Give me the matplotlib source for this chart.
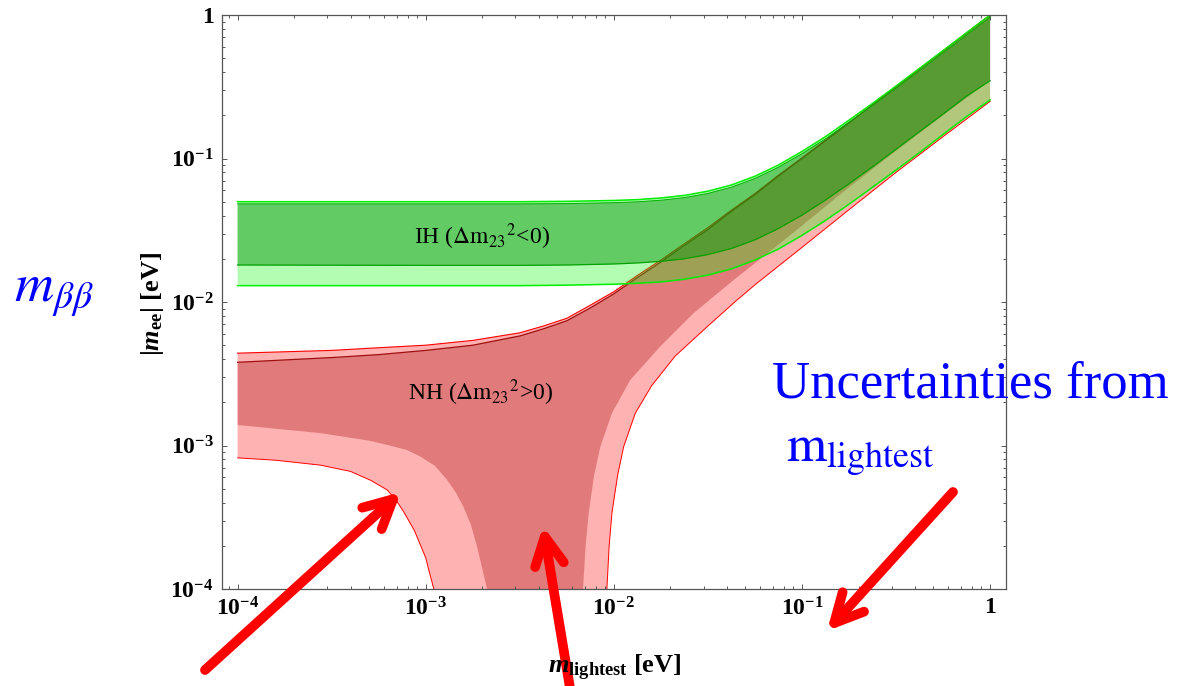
import numpy as np
import matplotlib.pyplot as plt
from matplotlib.ticker import FixedLocator, FixedFormatter, LogLocator, NullFormatter

plt.rcParams['font.family'] = ['Liberation Serif', 'DejaVu Serif']
plt.rcParams['mathtext.fontset'] = 'custom'
plt.rcParams['mathtext.rm'] = 'Liberation Serif:bold'
plt.rcParams['mathtext.it'] = 'Liberation Serif:italic:bold'
plt.rcParams['mathtext.bf'] = 'Liberation Serif:bold'

# --- data (log10 of m_lightest in eV, |m_ee| in eV) ---

# inverted hierarchy (green band)
ih_logm = [-4, -3, -2.5, -2.25, -2, -1.875, -1.75, -1.625, -1.5, -1.375, -1.25,
           -1.125, -1, -0.875, -0.75, -0.625, -0.5, -0.375, -0.25, -0.125, 0]
ih_top_3s = [0.050, 0.050, 0.050, 0.0503, 0.0510, 0.0517, 0.0531, 0.0553, 0.0592, 0.0654, 0.0752,
             0.0901, 0.112, 0.142, 0.185, 0.242, 0.320, 0.425, 0.565, 0.752, 1.0]
ih_top_1s = [0.0483, 0.0483, 0.0483, 0.0485, 0.0492, 0.0499, 0.0512, 0.0534, 0.0571, 0.0631, 0.0726,
             0.087, 0.108, 0.137, 0.179, 0.234, 0.309, 0.41, 0.545, 0.726, 0.965]
ih_bot_1s = [0.0181, 0.0180, 0.0180, 0.0181, 0.0184, 0.0187, 0.0192, 0.0200, 0.0214, 0.0236, 0.0271,
             0.0325, 0.0403, 0.0513, 0.0667, 0.0875, 0.116, 0.154, 0.204, 0.272, 0.348]
ih_bot_3s = [0.0130, 0.0130, 0.0130, 0.0131, 0.0133, 0.0135, 0.0138, 0.0144, 0.0154, 0.0170, 0.0196,
             0.0234, 0.0291, 0.037, 0.048, 0.063, 0.083, 0.110, 0.147, 0.196, 0.256]

# normal hierarchy (red band), upper edges
nh_logm = [-4, -3.5, -3.25, -3, -2.75, -2.5, -2.375, -2.25, -2.125, -2, -1.875, -1.75, -1.625, -1.5,
           -1.375, -1.25, -1.125, -1, -0.875, -0.75, -0.625, -0.5, -0.375, -0.25, -0.125, 0]
nh_top_3s = [0.0044, 0.0046, 0.0048, 0.0050, 0.0054, 0.0061, 0.0068, 0.0077, 0.0095, 0.0118, 0.0153,
             0.0196, 0.0255, 0.033, 0.0437, 0.057, 0.0765, 0.101, 0.134, 0.178, 0.237, 0.316, 0.422,
             0.562, 0.750, 1.0]
nh_top_1s = [0.0038, 0.0041, 0.0043, 0.0046, 0.0050, 0.0058, 0.0065, 0.0074, 0.0091, 0.0114, 0.0148,
             0.019, 0.0248, 0.032, 0.0429, 0.056, 0.0755, 0.100, 0.133, 0.177, 0.236, 0.315, 0.420,
             0.560, 0.748, 0.997]

# normal hierarchy lower edges (they dip below the axis in the funnel)
nh_bot3_logm = [-4, -3.8, -3.56, -3.4, -3.29, -3.205, -3.16, -3.117, -3.06, -3.03, -3.0, -2.984, -2.957,
                -2.945, -2.05, -2.037, -2.025, -2.01, -1.98, -1.948, -1.886, -1.8, -1.674, -1.5, -1.346,
                -1.24, -1, -0.75, -0.5, -0.25, 0]
nh_bot_3s = [0.00082, 0.00079, 0.00073, 0.00066, 0.00057, 0.00049, 0.00042, 0.000345, 0.000255, 0.000205,
             0.000165, 0.000136, 0.0001, 0.00003, 0.00003, 0.0001, 0.0002, 0.00034, 0.00062, 0.00098,
             0.00168, 0.0026, 0.0042, 0.0068, 0.0103, 0.0135, 0.024, 0.044, 0.080, 0.142, 0.25]
nh_bot1_logm = [-4, -3.56, -3.3, -3.205, -3.1, -3.03, -2.95, -2.886, -2.84, -2.80, -2.76, -2.727, -2.70,
                -2.674, -2.66, -2.175, -2.164, -2.15, -2.134, -2.105, -2.072, -2.01, -1.913, -1.754,
                -1.577, -1.364, -1.2, -1, -0.75, -0.5, -0.25, 0]
nh_bot_1s = [0.00139, 0.00122, 0.00108, 0.00101, 0.00093, 0.00084, 0.00072, 0.000575, 0.00047, 0.000375,
             0.00028, 0.000197, 0.00014, 0.0001, 0.00003, 0.00003, 0.0001, 0.0002, 0.000337, 0.00062,
             0.00098, 0.00168, 0.00286, 0.00489, 0.00834, 0.0142, 0.021, 0.034, 0.063, 0.113, 0.2, 0.35]

major_ticks = [1e-4, 1e-3, 1e-2, 1e-1, 1]
tick_labels = [r'$10^{-4}$', r'$10^{-3}$', r'$10^{-2}$', r'$10^{-1}$', '1']


def band(ax, x_top, y_top, x_bot, y_bot, **kw):
    xs = np.concatenate([10.0 ** np.array(x_top), (10.0 ** np.array(x_bot))[::-1]])
    ys = np.concatenate([y_top, y_bot[::-1]])
    ax.fill(xs, ys, lw=0, **kw)


fig = plt.figure(figsize=(11.8, 6.86), dpi=100)
ax = fig.add_axes([222 / 1180, 97 / 686, 783.7 / 1180, 574 / 686])
ax.set_xscale('log')
ax.set_yscale('log')

# NH band
band(ax, nh_logm, nh_top_3s, nh_bot3_logm, nh_bot_3s, color=(1, 0, 0), alpha=0.3, zorder=1)
band(ax, nh_logm, nh_top_1s, nh_bot1_logm, nh_bot_1s, color=(0.63, 0, 0), alpha=0.31, zorder=1.1)
m = 10.0 ** np.array(nh_logm)
ax.plot(m, nh_top_3s, color='#ff0000', lw=0.8, zorder=1.2)
ax.plot(m, nh_top_1s, color='#a01010', lw=0.9, zorder=1.2)
ax.plot(10.0 ** np.array(nh_bot3_logm), nh_bot_3s, color='#ff0000', lw=0.7, zorder=1.2)

# IH band
band(ax, ih_logm, ih_top_3s, ih_logm, ih_bot_3s, color=(0, 0.98, 0), alpha=0.3, zorder=2)
band(ax, ih_logm, ih_top_1s, ih_logm, ih_bot_1s, color=(0.05, 0.59, 0.05), alpha=0.48, zorder=2.1)
m = 10.0 ** np.array(ih_logm)
ax.plot(m, ih_top_3s, color='#00ee00', lw=1.1, zorder=2.2)
ax.plot(m, ih_bot_3s, color='#00ee00', lw=1.1, zorder=2.2)
ax.plot(m, ih_top_1s, color='#00b000', lw=0.7, zorder=2.2)
ax.plot(m, ih_bot_1s, color='#00a000', lw=0.9, zorder=2.2)

ax.text(10 ** -2.70, 0.0284, r'IH ($\Delta{\mathrm{m}_{23}}^{2}$<0)', fontsize=17, ha='center', va='center',
        math_fontfamily='stix', zorder=5)
ax.text(10 ** -2.71, 0.00232, r'NH ($\Delta{\mathrm{m}_{23}}^{2}$>0)', fontsize=17, ha='center', va='center',
        math_fontfamily='stix', zorder=5)

ax.set_xlim(10 ** -4.083, 10 ** 0.083)
ax.set_ylim(1e-4, 1)
for axis in (ax.xaxis, ax.yaxis):
    axis.set_major_locator(FixedLocator(major_ticks))
    axis.set_major_formatter(FixedFormatter(tick_labels))
    axis.set_minor_locator(LogLocator(base=10, subs=np.arange(2, 10)))
    axis.set_minor_formatter(NullFormatter())
ax.tick_params(which='both', direction='in', top=True, right=True, color='#555555', width=0.7,
               labelsize=17, pad=6)
ax.tick_params(which='major', length=3.4)
ax.tick_params(which='minor', length=2.3)
for lab in ax.get_xticklabels() + ax.get_yticklabels():
    lab.set_fontweight('bold')
for sp in ax.spines.values():
    sp.set_color('#555555')
    sp.set_linewidth(0.9)

fig.text(152 / 1180, 1 - 304 / 686, r'$|m_{\mathrm{ee}}|$ [eV]', rotation=90, fontsize=19,
         fontweight='bold', ha='center', va='center')
fig.text(615 / 1180, 1 - 668 / 686, r'$m_{\mathrm{lightest}}$ [eV]', fontsize=19,
         fontweight='bold', ha='center', va='center')

# slide annotations
fig.text(14 / 1180, 1 - 302 / 686, r'$m_{\beta\beta}$', fontsize=39, color='#0000ff',
         math_fontfamily='stix', ha='left', va='baseline')
fig.text(772 / 1180, 1 - 398 / 686, 'Uncertainties from', fontsize=38, color='#0000ff',
         ha='left', va='baseline')
fig.text(786 / 1180, 1 - 462 / 686, r'$\mathrm{m}_{\mathrm{lightest}}$', fontsize=37, color='#0000ff',
         math_fontfamily='stix', ha='left', va='baseline')

arrows = [((205, 670), (401, 492)), ((572, 700), (543, 526)), ((953, 492), (827, 631))]
for tail, tip in arrows:
    ax.annotate('', xy=(tip[0], 686 - tip[1]), xytext=(tail[0], 686 - tail[1]),
                xycoords='figure pixels', textcoords='figure pixels', annotation_clip=False,
                arrowprops=dict(arrowstyle='->,head_length=2.05,head_width=1.04', lw=7, color='#ff0000',
                                shrinkA=0, shrinkB=0, mutation_scale=10, capstyle='round',
                                joinstyle='round'), zorder=10)

fig.savefig('out.png', dpi=100)
